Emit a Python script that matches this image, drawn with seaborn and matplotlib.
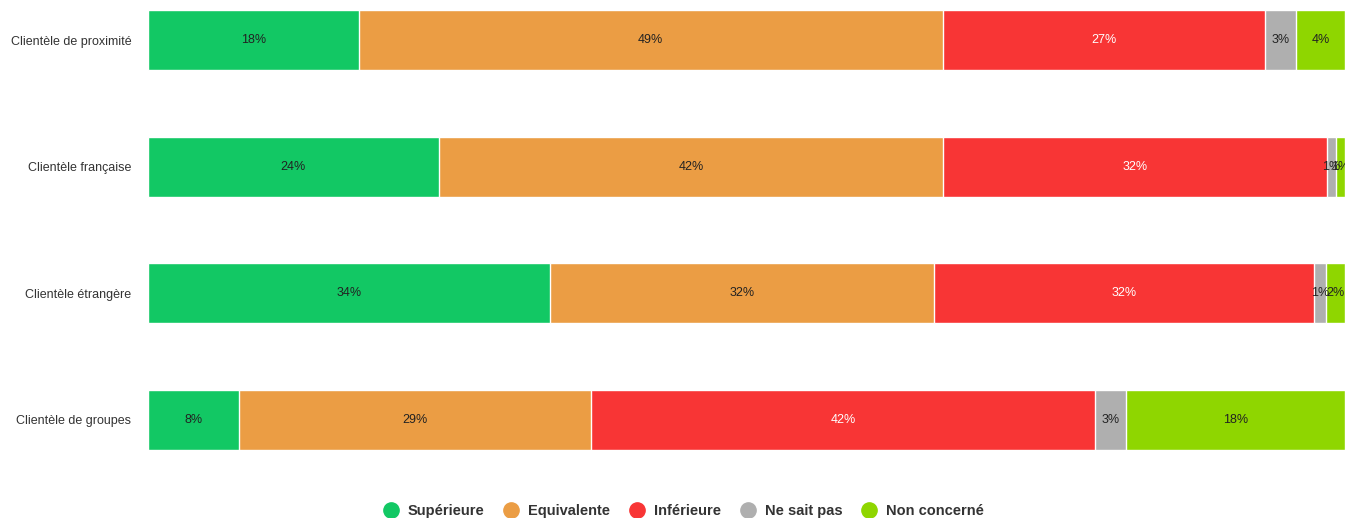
import matplotlib
matplotlib.use("Agg")
import matplotlib.pyplot as plt
import seaborn as sns
import pandas as pd
import numpy as np

# données (en %)
categories = ["Clientèle de proximité", "Clientèle française",
              "Clientèle étrangère", "Clientèle de groupes"]
series = ["Supérieure", "Equivalente", "Inférieure", "Ne sait pas", "Non concerné"]
superieure = [17.6, 24.3, 33.6, 7.6]
equivalente = [48.8, 42.1, 32.1, 29.4]
inferieure = [26.9, 32.1, 31.7, 42.1]
ne_sait_pas = [2.6, 0.75, 1.0, 2.6]
non_concerne = [4.1, 0.75, 1.6, 18.3]
colors = ["#12C864", "#EB9D44", "#F83535", "#AFAFAF", "#8FD600"]

df = pd.DataFrame({
    "categorie": categories,
    "Supérieure": superieure,
    "Equivalente": equivalente,
    "Inférieure": inferieure,
    "Ne sait pas": ne_sait_pas,
    "Non concerné": non_concerne,
})
cum = df[series].cumsum(axis=1)

sns.set_theme(style="white")
plt.rcParams["font.family"] = ["Liberation Sans", "DejaVu Sans"]

fig = plt.figure(figsize=(13.45, 5.18), dpi=100)
ax = fig.add_axes([148 / 1345, 68 / 518, 1 - 148 / 1345, 440 / 518])

# barres empilées : on dessine les cumuls du plus grand au plus petit
for s, c in reversed(list(zip(series, colors))):
    sns.barplot(data=cum.assign(categorie=df["categorie"]), x=s, y="categorie",
                color=c, width=0.474, edgecolor="white", linewidth=1,
                saturation=1, ax=ax, orient="h", legend=False)

# étiquettes au centre de chaque segment
for i in range(len(categories)):
    start = 0
    for s in series:
        v = df.loc[i, s]
        txt_color = "white" if s == "Inférieure" else "#222222"
        ax.text(start + v / 2, i, f"{v:.0f}%", ha="center", va="center",
                fontsize=9, color=txt_color)
        start += v

ax.set_xlim(0, 100)
ax.set_ylim(3 + 0.237, -0.237)
ax.set_xlabel("")
ax.set_ylabel("")
ax.set_xticks([])
ax.tick_params(axis="y", length=0, pad=12, labelsize=9, labelcolor="#333333")
sns.despine(ax=ax, left=True, bottom=True)
if ax.get_legend() is not None:
    ax.get_legend().remove()

handles = [plt.Line2D([], [], marker="o", linestyle="", markersize=11,
                      markerfacecolor=c, markeredgecolor=c) for c in colors]
fig.legend(handles, series, loc="center", bbox_to_anchor=(680 / 1345, 1 - 511 / 518),
           ncol=5, frameon=False, handletextpad=0.15, columnspacing=0.85,
           prop={"weight": "bold", "size": 10.5}, labelcolor="#333333")

fig.savefig("out.png", dpi=100)
